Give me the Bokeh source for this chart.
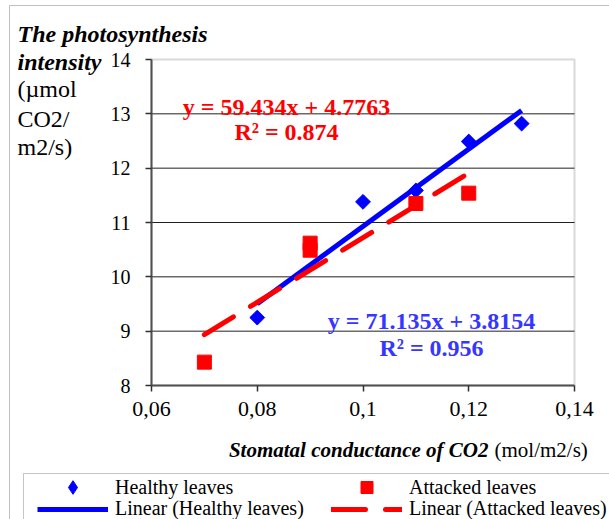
import math
from bokeh.plotting import figure
from bokeh.models import (Label, Legend, LegendItem, FixedTicker, CustomJSTickFormatter,
                          BoxAnnotation, Range1d, ColumnDataSource, CDSView, IndexFilter)
from bokeh.embed import file_html
from bokeh.resources import INLINE

# ---------------- data ----------------
healthy_x = [0.08, 0.10, 0.11, 0.12, 0.13]
healthy_y = [9.25, 11.38, 11.59, 12.49, 12.82]
attacked_x = [0.07, 0.09, 0.09, 0.11, 0.12]
attacked_y = [8.43, 10.62, 10.49, 11.35, 11.54]

healthy_slope, healthy_intercept, healthy_r2 = 71.135, 3.8154, 0.956
attacked_slope, attacked_intercept, attacked_r2 = 59.434, 4.7763, 0.874

x_ticks = [0.06, 0.08, 0.10, 0.12, 0.14]
x_tick_labels = ["0,06", "0,08", "0,1", "0,12", "0,14"]
y_ticks = [8, 9, 10, 11, 12, 13, 14]

XMIN, XMAX, YMIN, YMAX = 0.06, 0.14, 8, 14

# ---------------- layout (canvas pixels of the plot area) ----------------
W, H = 609, 519
FL, FR, FT, FB = 151, 574, 59, 385
KX = (XMAX - XMIN) / (FR - FL)
KY = (YMAX - YMIN) / (FB - FT)


def dx(px):
    return XMIN + (px - FL) * KX


def dy(py):
    return YMIN + (FB - py) * KY


p = figure(width=W, height=H, output_backend="svg", toolbar_location=None,
           x_range=Range1d(dx(0), dx(W)), y_range=Range1d(dy(H), dy(0)),
           min_border=0, min_border_left=0, min_border_right=0,
           min_border_top=0, min_border_bottom=0)
p.background_fill_color = "white"
p.border_fill_color = "white"
p.outline_line_color = None
p.xgrid.grid_line_color = None
p.ygrid.grid_line_color = None

FONT = "Liberation Serif"

# axes fixed at the plot-area edges
xa, ya = p.xaxis[0], p.yaxis[0]
xa.fixed_location = YMIN
ya.fixed_location = XMIN
xa.bounds = (XMIN, XMAX)
ya.bounds = (YMIN, YMAX)
for ax in (xa, ya):
    ax.axis_line_color = "#505050"
    ax.axis_line_width = 2
    ax.major_tick_line_color = "#303030"
    ax.major_tick_line_width = 1.5
    ax.major_tick_out = 6
    ax.major_tick_in = 0
    ax.minor_tick_line_color = None
    ax.major_label_text_font = FONT
    ax.major_label_text_font_style = "normal"
    ax.major_label_text_color = "black"

xa.ticker = FixedTicker(ticks=x_ticks)
xa.formatter = CustomJSTickFormatter(
    args=dict(vals=x_ticks, labs=x_tick_labels),
    code="""
    let b = 0, d = 1e9;
    for (let i = 0; i < vals.length; i++) {
        const e = Math.abs(vals[i] - tick);
        if (e < d) { d = e; b = i; }
    }
    return labs[b];
    """)
xa.major_label_text_font_size = "22px"
xa.major_label_standoff = 10
ya.ticker = FixedTicker(ticks=y_ticks)
ya.major_label_text_font_size = "20px"
ya.major_label_standoff = 15

# plot-area frame and horizontal grid lines
p.add_layout(BoxAnnotation(left=XMIN, right=XMAX, bottom=YMIN, top=YMAX, fill_alpha=0,
                           line_color="#808080", line_width=2, level="underlay"))
grid_y = y_ticks[1:-1]
p.segment(x0=[XMIN] * len(grid_y), x1=[XMAX] * len(grid_y), y0=grid_y, y1=grid_y,
          line_color="#202020", line_width=1)

# trend lines
hx = [min(healthy_x), max(healthy_x)]
hy = [healthy_slope * v + healthy_intercept for v in hx]
ax_ = [min(attacked_x), max(attacked_x)]
ay = [attacked_slope * v + attacked_intercept for v in ax_]

l_h = p.line(hx, hy, line_color="#0000FF", line_width=5)
l_a = p.line(ax_, ay, line_color="#FF0000", line_width=5, line_dash="34 20", line_cap="round")

healthy_src = ColumnDataSource(data=dict(x=healthy_x, y=healthy_y))
r_h = p.scatter("x", "y", source=healthy_src, marker="square", angle=math.pi / 4, size=10.5,
                fill_color="#0000FF", line_color="#0000FF")
r_a = p.scatter(attacked_x, attacked_y, marker="square", size=14,
                fill_color="#FF0000", line_color="#FF0000")
# legend symbol for the diamonds (legend glyphs are drawn unrotated); its single shown
# point sits entirely inside the first blue marker, so the plot looks unchanged
r_h_leg = p.scatter("x", "y", source=healthy_src, view=CDSView(filter=IndexFilter(indices=[0])),
                    marker="diamond", size=13, fill_color="#0000FF", line_color="#0000FF")

# equations
RED, BLUE = "#FF0000", "#3636FF"
for txt, px, py, col in [
    (f"y = {attacked_slope}x + {attacked_intercept}", 286, 106.5, RED),
    (f"R\u00b2 = {attacked_r2}", 286, 131.5, RED),
    (f"y = {healthy_slope}x + {healthy_intercept}", 431, 320, BLUE),
    (f"R\u00b2 = {healthy_r2}", 431, 347.5, BLUE),
]:
    p.add_layout(Label(x=dx(px), y=dy(py), text=txt, text_font=FONT, text_font_size="24px",
                       text_font_style="bold", text_color=col, text_align="center",
                       text_baseline="alphabetic"))

# y title
for txt, py, style in [("The photosynthesis", 33, "bold italic"), ("intensity", 61, "bold italic"),
                        ("(\u00b5mol", 88, "normal"), ("CO2/", 118.5, "normal"), ("m2/s)", 146, "normal")]:
    p.add_layout(Label(x=dx(17), y=dy(py), text=txt, text_font=FONT, text_font_size="24px",
                       text_font_style=style, text_color="black", text_align="left",
                       text_baseline="alphabetic"))

# x title
p.add_layout(Label(x=dx(488), y=dy(449.5), text="Stomatal conductance of CO2", text_font=FONT,
                   text_font_size="21px", text_font_style="bold italic", text_color="black",
                   text_align="right", text_baseline="alphabetic"))
p.add_layout(Label(x=dx(494), y=dy(449.5), text="(mol/m2/s)", text_font=FONT,
                   text_font_size="21px", text_font_style="normal", text_color="black",
                   text_align="left", text_baseline="alphabetic"))

# outer chart border and legend border
p.add_layout(BoxAnnotation(left=dx(9), right=dx(3000), top=dy(5), bottom=dy(3000),
                           fill_alpha=0, line_color="#333333", line_width=1))
p.add_layout(BoxAnnotation(left=dx(23), right=dx(3000), top=dy(473), bottom=dy(3000),
                           fill_alpha=0, line_color="#404040", line_width=1))

# legend: one small legend per entry, so every row sits where the reference has it
common = dict(label_text_font=FONT, label_text_font_size="20px", label_text_color="black",
              glyph_width=71, label_standoff=7, padding=0, margin=0, label_height=22,
              background_fill_alpha=0, border_line_alpha=0)
ROW1, ROW2 = 487, 509
for label, rend, col_x, row_y, gh in [
    ("Healthy leaves", r_h_leg, 37, ROW1, 34),
    ("Linear (Healthy leaves)", l_h, 37, ROW2, 22),
    ("Attacked leaves", r_a, 331, ROW1, 30),
    ("Linear (Attacked leaves)", l_a, 331, ROW2, 22),
]:
    bottom = row_y + gh / 2
    p.add_layout(Legend(items=[LegendItem(label=label, renderers=[rend])],
                        location=(col_x, H - bottom), glyph_height=gh, **common))

open("out.html", "w").write(file_html(p, INLINE))
